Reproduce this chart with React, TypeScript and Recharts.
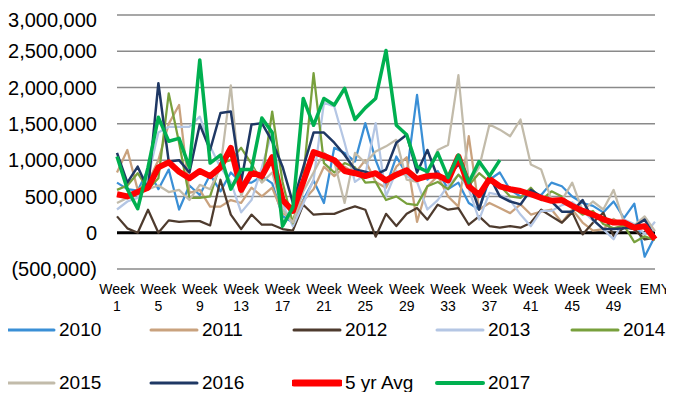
import React from "react";
import { LineChart, Line, XAxis, YAxis, CartesianGrid, ReferenceLine, Legend } from "recharts";

const FONT = "'Liberation Sans', Arial, sans-serif";

const weeks = [
  "Week 1", "Week 2", "Week 3", "Week 4", "Week 5", "Week 6", "Week 7", "Week 8", "Week 9", "Week 10",
  "Week 11", "Week 12", "Week 13", "Week 14", "Week 15", "Week 16", "Week 17", "Week 18", "Week 19", "Week 20",
  "Week 21", "Week 22", "Week 23", "Week 24", "Week 25", "Week 26", "Week 27", "Week 28", "Week 29", "Week 30",
  "Week 31", "Week 32", "Week 33", "Week 34", "Week 35", "Week 36", "Week 37", "Week 38", "Week 39", "Week 40",
  "Week 41", "Week 42", "Week 43", "Week 44", "Week 45", "Week 46", "Week 47", "Week 48", "Week 49", "Week 50",
  "Week 51", "Week 52", "EMY",
];

const y2010 = [
  690000, 600000, 580000, 870000, 600000, 870000, 320000, 650000, 520000, 800000,
  570000, 830000, 690000, 690000, 780000, 680000, 230000, 140000, 450000, 720000,
  410000, 1170000, 1100000, 980000, 1510000, 1000000, 640000, 1050000, 800000, 1900000,
  730000, 850000, 600000, 690000, 410000, 320000, 730000, 830000, 590000, 500000,
  520000, 520000, 690000, 640000, 500000, 410000, 370000, 280000, 430000, 200000,
  400000, -330000, -50000,
];

const y2011 = [
  830000, 1140000, 590000, 700000, 1000000, 1500000, 1760000, 550000, 590000, 360000,
  360000, 450000, 410000, 620000, 500000, 620000, 270000, 180000, 440000, 600000,
  910000, 780000, 910000, 820000, 1000000, 700000, 620000, 910000, 1040000, 150000,
  640000, 780000, 500000, 360000, 1330000, 320000, 410000, 340000, 270000, 390000,
  250000, 290000, 320000, 140000, 320000, 140000, 30000, 50000, 190000, 90000,
  50000, -90000, -50000,
];

const y2012 = [
  225000, 60000, 0, 317000, 0, 170000, 150000, 160000, 160000, 100000,
  730000, 250000, 50000, 250000, 110000, 110000, 50000, 30000, 386000, 248000,
  260000, 260000, 317000, 363000, 317000, -55000, 260000, 92000, 260000, 340000,
  180000, 386000, 317000, 340000, 110000, 225000, 92000, 69000, 92000, 69000,
  138000, 317000, 225000, 138000, 280000, -23000, 138000, 275000, -46000, 69000,
  50000, -92000, -70000,
];

const y2013 = [
  320000, 430000, 480000, 760000, 1380000, 1460000, 1460000, 1460000, 1600000, 1190000,
  900000, 700000, 280000, 450000, 900000, 1400000, 400000, 90000, 400000, 730000,
  1790000, 1740000, 1240000, 700000, 800000, 1510000, 500000, 850000, 780000, 700000,
  320000, 450000, 650000, 800000, 600000, 180000, 550000, 520000, 450000, 250000,
  90000, 300000, 300000, 380000, 420000, 300000, 170000, 50000, -90000, 180000,
  120000, -20000, 150000,
];

const y2014 = [
  590000, 650000, 820000, 600000, 750000, 1920000, 1240000, 480000, 480000, 500000,
  960000, 1000000, 1170000, 950000, 700000, 1670000, 700000, 130000, 750000, 2200000,
  960000, 830000, 960000, 900000, 690000, 700000, 450000, 500000, 400000, 380000,
  640000, 700000, 600000, 800000, 650000, 820000, 700000, 650000, 500000, 480000,
  620000, 450000, 570000, 500000, 360000, 250000, 300000, 120000, 60000, 100000,
  -130000, -50000, -100000,
];

const y2015 = [
  410000, 480000, 550000, 600000, 650000, 560000, 590000, 450000, 660000, 600000,
  900000, 2030000, 500000, 910000, 690000, 830000, 320000, 140000, 570000, 830000,
  1100000, 980000, 410000, 1100000, 960000, 1120000, 1190000, 1280000, 730000, 700000,
  800000, 1140000, 1210000, 2170000, 690000, 900000, 1490000, 1420000, 1330000, 1560000,
  940000, 870000, 450000, 450000, 690000, 300000, 430000, 320000, 590000, 140000,
  100000, 225000, 20000,
];

const y2016 = [
  1100000, 690000, 910000, 600000, 2060000, 980000, 1000000, 830000, 1490000, 1140000,
  1650000, 1670000, 700000, 1490000, 1510000, 1260000, 910000, 410000, 900000, 1380000,
  1380000, 1240000, 1070000, 870000, 840000, 800000, 870000, 1240000, 1350000, 830000,
  1140000, 760000, 770000, 940000, 730000, 320000, 780000, 500000, 430000, 390000,
  590000, 500000, 430000, 290000, 290000, 450000, 180000, 50000, 50000, 60000,
  90000, 180000, -60000,
];

const avg5yr = [
  530000, 500000, 560000, 620000, 900000, 970000, 840000, 750000, 850000, 780000,
  900000, 1170000, 590000, 830000, 780000, 1040000, 450000, 300000, 700000, 1110000,
  1060000, 1000000, 850000, 820000, 780000, 820000, 720000, 800000, 860000, 740000,
  780000, 790000, 720000, 1050000, 640000, 520000, 740000, 640000, 600000, 575000,
  530000, 480000, 440000, 450000, 370000, 300000, 250000, 185000, 140000, 140000,
  70000, 90000, -90000,
];

const y2017 = [
  1050000, 600000, 330000, 900000, 1590000, 1260000, 1300000, 900000, 2380000, 960000,
  1070000, 600000, 870000, 870000, 1580000, 1380000, 90000, 350000, 1850000, 1480000,
  1850000, 1760000, 1990000, 1560000, 1720000, 1850000, 2510000, 1480000, 1350000, 910000,
  840000, 1100000, 760000, 1070000, 690000, 980000, 780000, 1000000,
];

const yTicks = [-500000, 0, 500000, 1000000, 1500000, 2000000, 2500000, 3000000];

const SERIES = [
  { key: "y2010", name: "2010", color: "#3A8FD6", width: 2.25, legend: 3, values: y2010 },
  { key: "y2011", name: "2011", color: "#C9A27E", width: 2.25, legend: 3, values: y2011 },
  { key: "y2012", name: "2012", color: "#4E3B2E", width: 2.25, legend: 3, values: y2012 },
  { key: "y2013", name: "2013", color: "#B4C6E4", width: 2.25, legend: 3, values: y2013 },
  { key: "y2014", name: "2014", color: "#78A03C", width: 2.25, legend: 3, values: y2014 },
  { key: "y2015", name: "2015", color: "#C2BBAA", width: 2.25, legend: 3, values: y2015 },
  { key: "y2016", name: "2016", color: "#1F3864", width: 2.5, legend: 3, values: y2016 },
  { key: "avg", name: "5 yr Avg", color: "#FF0000", width: 6, legend: 7, values: avg5yr },
  { key: "y2017", name: "2017", color: "#00B050", width: 3.5, legend: 4, values: y2017 },
];

const legendLeft = [-2, 141, 284, 427, 562];

const data = weeks.map((week, i) => {
  const row: any = { week };
  SERIES.forEach((s) => {
    row[s.key] = i < s.values.length ? s.values[i] : null;
  });
  return row;
});

const fmt = (v: number) =>
  v < 0 ? `(${Math.abs(v).toLocaleString("en-US")})` : v.toLocaleString("en-US");

function WeekTick({ x, y, payload }: any) {
  const label = String(payload.value);
  const parts = label.startsWith("Week") ? ["Week", label.slice(5)] : [label];
  return (
    <g transform={`translate(${x},${y})`}>
      <text textAnchor="middle" fontSize={14} fill="#000" fontFamily={FONT}>
        <tspan x={0} y={25}>{parts[0]}</tspan>
        {parts[1] && <tspan x={0} y={42}>{parts[1]}</tspan>}
      </text>
    </g>
  );
}

function LegendBox() {
  const rows = [SERIES.slice(0, 5), SERIES.slice(5)];
  return (
    <div style={{ position: "relative", height: 83, width: 647 }}>
      {rows.map((row, r) =>
        row.map((s, c) => (
          <div
            key={s.key}
            style={{
              position: "absolute",
              left: legendLeft[c],
              top: r === 0 ? 8 : 61,
              height: 26,
              display: "flex",
              alignItems: "center",
              whiteSpace: "nowrap",
            }}
          >
            <svg width={50} height={10}>
              <line x1={2} y1={5} x2={48} y2={5} stroke={s.color} strokeWidth={s.legend} strokeLinecap="round" />
            </svg>
            <span style={{ marginLeft: 3, fontSize: 19, fontFamily: FONT, color: "#000" }}>{s.name}</span>
          </div>
        ))
      )}
    </div>
  );
}

export default function App() {
  return (
    <LineChart
      width={666}
      height={384}
      data={data}
      margin={{ top: 7, right: 19, left: 0, bottom: 0 }}
    >
      <CartesianGrid vertical={false} stroke="#8A8A8A" strokeWidth={1.5} />
      <XAxis
        dataKey="week"
        interval={3}
        tickLine={false}
        axisLine={false}
        tickSize={0}
        tickMargin={0}
        height={40}
        tick={<WeekTick />}
      />
      <YAxis
        domain={[-500000, 3000000]}
        ticks={yTicks}
        allowDataOverflow
        tickFormatter={fmt}
        tickLine={false}
        axisLine={false}
        tickSize={0}
        tickMargin={20}
        width={109}
        tick={{ fontSize: 20, fill: "#000", fontFamily: FONT }}
      />
      <ReferenceLine y={0} stroke="#000" strokeWidth={3} />
      {SERIES.map((s) => (
        <Line
          key={s.key}
          type="linear"
          dataKey={s.key}
          name={s.name}
          stroke={s.color}
          strokeWidth={s.width}
          strokeLinejoin="round"
          dot={false}
          activeDot={false}
          connectNulls={false}
          isAnimationActive={false}
        />
      ))}
      <Legend verticalAlign="bottom" content={() => <LegendBox />} />
    </LineChart>
  );
}
